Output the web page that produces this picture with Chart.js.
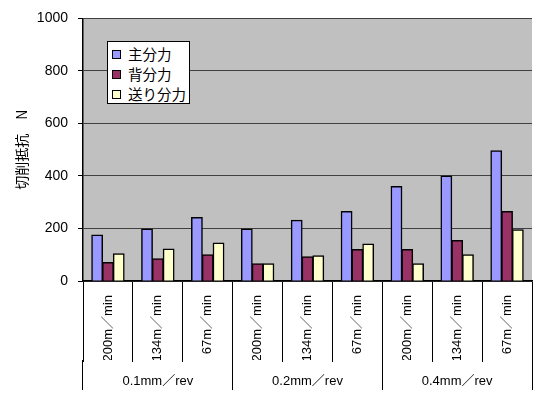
<!DOCTYPE html>
<html>
<head>
<meta charset="utf-8">
<script src="https://cdn.jsdelivr.net/npm/chart.js@4"></script>
<style>
  html, body { margin: 0; padding: 0; background: #fff; }
  #wrap { position: relative; width: 534px; height: 397px; }
  #legend {
    position: absolute; left: 107px; top: 41px; width: 81px; height: 61px;
    background: #fff; border: 1px solid #000; box-sizing: content-box;
    font: 14.5px "Noto Sans CJK JP", sans-serif; color: #000;
  }
  #legend .item { position: absolute; left: 4px; height: 20px; line-height: 20px; white-space: nowrap; }
  #legend .box { position: absolute; left: 0; top: 5px; width: 7px; height: 7px; border: 1px solid #000; }
  #legend .txt { position: absolute; left: 16px; top: -1px; }
</style>
</head>
<body>
<div id="wrap">
  <canvas id="chart" width="534" height="397"></canvas>
  <div id="legend"></div>
</div>
<script>
// Cutting conditions: feed rate groups and cutting speeds within each group
const feeds = ["0.1mm／rev", "0.2mm／rev", "0.4mm／rev"];
const speeds = ["200m／min", "134m／min", "67m／min"];
const categories = feeds.flatMap(() => speeds);

// Cutting force components (N)
const seriesNames = ["主分力", "背分力", "送り分力"];
const mainForce = [175, 198, 242, 198, 231, 265, 360, 400, 496];
const backForce = [70, 85, 100, 66, 92, 120, 120, 154, 265];
const feedForce = [104, 122, 145, 66, 96, 141, 66, 100, 195];

const yTicks = { min: 0, max: 1000, step: 200 };
const yTitle = "切削抵抗　N";

const colors = ["#9999FF", "#993366", "#FFFFCC"];

// Grey fill behind the plotting area
const plotBackground = {
  id: "plotBackground",
  beforeDraw(chart) {
    const { ctx, chartArea: a } = chart;
    ctx.save();
    ctx.fillStyle = "#C0C0C0";
    ctx.fillRect(a.left, a.top, a.right - a.left, a.bottom - a.top);
    ctx.restore();
  }
};

const latin = "'Liberation Sans', Arial, 'Noto Sans CJK JP', sans-serif";

const chart = new Chart(document.getElementById("chart"), {
  type: "bar",
  data: {
    labels: categories,
    datasets: [mainForce, backForce, feedForce].map((d, i) => ({
      label: seriesNames[i],
      data: d,
      backgroundColor: colors[i],
      borderColor: "#000",
      borderWidth: 1.5,
      inflateAmount: 0.5,
      barPercentage: 1.0,
      categoryPercentage: 0.65
    }))
  },
  options: {
    responsive: false,
    animation: false,
    devicePixelRatio: 1,
    layout: { padding: { top: 14, right: 2, bottom: 7, left: 0 } },
    plugins: { legend: { display: false }, tooltip: { enabled: false } },
    scales: {
      // cutting speed row: separators between every category
      x: {
        grid: { offset: true, drawOnChartArea: false, tickLength: 81, color: "#000", lineWidth: 1 },
        border: { color: "#000", width: 1.5 },
        ticks: {
          autoSkip: false, minRotation: 90, maxRotation: 90, padding: -67,
          color: "#000", font: { family: latin, size: 13 }
        },
        afterFit(s) { s.height = 79; }
      },
      // feed rate row: separators between groups
      x2: {
        type: "category",
        labels: feeds,
        position: "bottom",
        weight: 1,
        offset: true,
        grid: { offset: true, drawOnChartArea: false, tickLength: 30, color: "#000", lineWidth: 1 },
        border: { display: false },
        ticks: { padding: -16, color: "#000", font: { family: latin, size: 13 } },
        afterFit(s) { s.height = 30; }
      },
      y: {
        min: yTicks.min,
        max: yTicks.max,
        ticks: {
          stepSize: yTicks.step, padding: 10, color: "#000",
          font: { family: latin, size: 14 },
          callback: (v) => String(v)
        },
        grid: { color: "#404040", lineWidth: 1, tickLength: 5, tickColor: "#000" },
        border: { color: "#000", width: 1.5 },
        title: {
          display: true, text: yTitle, color: "#000",
          font: { family: "'Noto Sans CJK JP', sans-serif", size: 14 },
          padding: { top: 13, bottom: 0 }
        },
        afterFit(s) { s.width = 83; }
      }
    }
  },
  plugins: [plotBackground]
});

// Legend drawn from the chart's own datasets
const legend = document.getElementById("legend");
chart.data.datasets.forEach((ds, i) => {
  const item = document.createElement("div");
  item.className = "item";
  item.style.top = (3 + i * 20) + "px";
  const box = document.createElement("span");
  box.className = "box";
  box.style.background = ds.backgroundColor;
  const txt = document.createElement("span");
  txt.className = "txt";
  txt.textContent = ds.label;
  item.appendChild(box);
  item.appendChild(txt);
  legend.appendChild(item);
});
</script>
</body>
</html>
